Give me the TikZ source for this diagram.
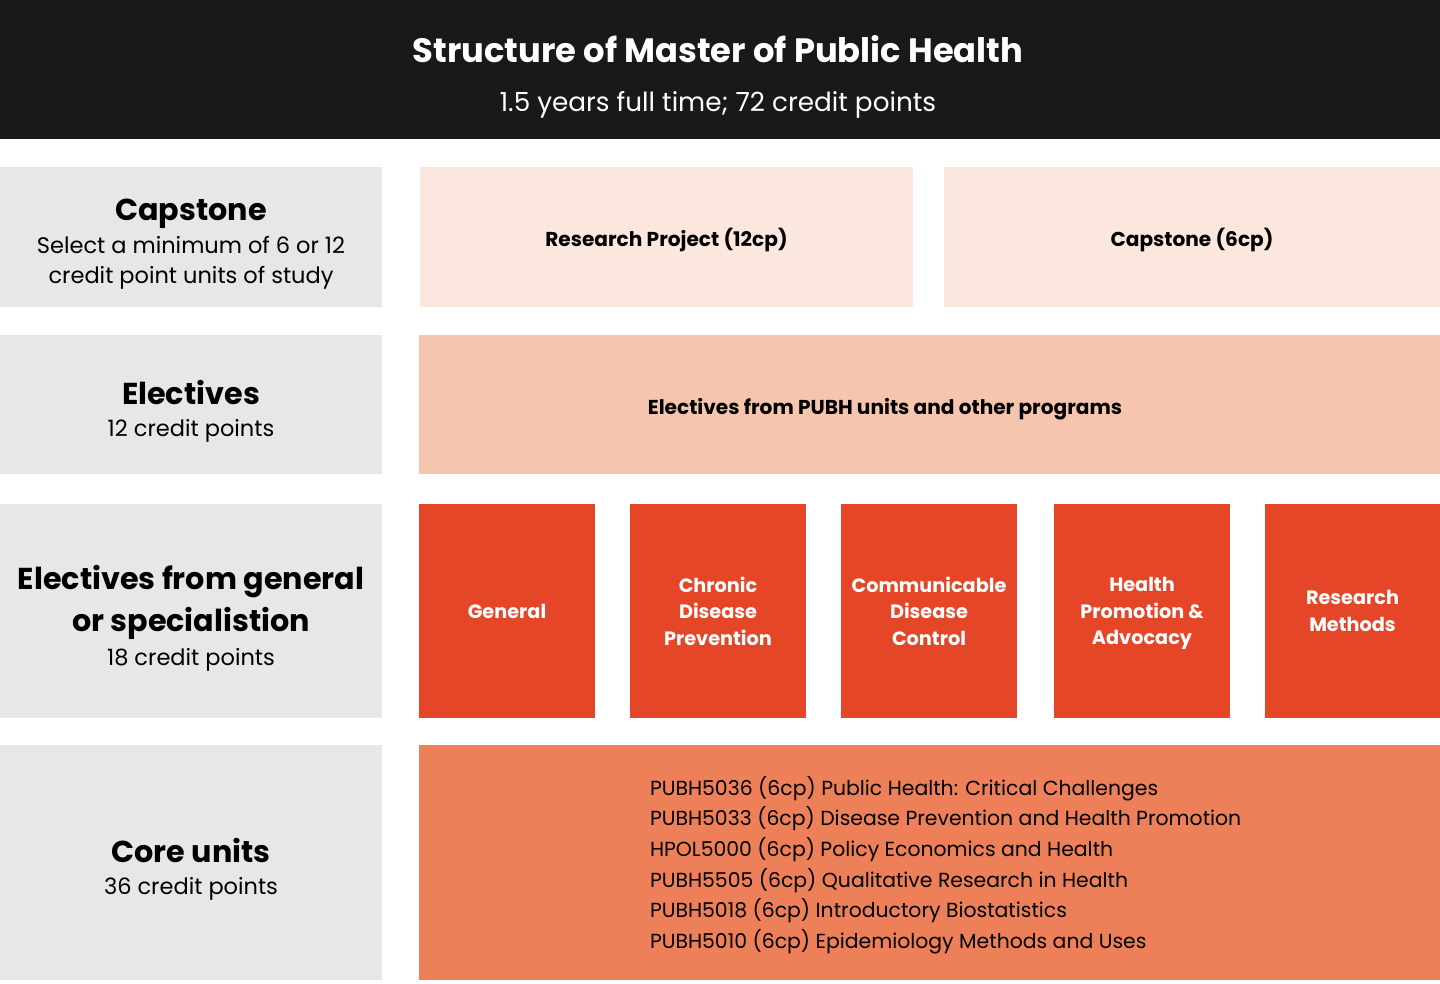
\documentclass[tikz,border=0pt]{standalone}
\usepackage{fontspec}
\setmainfont{Poppins}

\colorlet{headercolor}{black!90}
\definecolor{greycolor}{HTML}{E6E7E8}
\definecolor{capcolor}{HTML}{FBE7DD}
\definecolor{electcolor}{HTML}{F6C5AD}
\definecolor{speccolor}{HTML}{E54627}
\definecolor{corecolor}{HTML}{EE8059}

\newcommand{\rowheadfont}{\fontsize{21.5}{22}\selectfont\bfseries}
\newcommand{\rowsubfont}{\fontsize{16}{22}\selectfont\mdseries}

\begin{document}
\begin{tikzpicture}
  [x=0.025cm,y=-0.025cm,
   % Styles
   every node/.style={inner sep=0pt,outer sep=0pt},
   row label/.style={fill=greycolor,minimum width=382*0.025cm},
   row text/.style={align=center,text=black,font=\rowsubfont},
   unit box/.style={align=center,text depth=0pt,font=\fontsize{14.3}{18}\selectfont\bfseries},
   spec box/.style={unit box,fill=speccolor,text=white,minimum width=176*0.025cm,
     minimum height=214*0.025cm,font=\fontsize{13.7}{19}\selectfont\bfseries}]

  % The frame
  \useasboundingbox (0,0) rectangle (1440,984);
  \fill[white] (0,0) rectangle (1440,984);
  \fill[headercolor] (0,0) rectangle (1440,139);

  \node[text=white,font=\fontsize{24}{25}\selectfont\bfseries] (title) at (718,49)
    {Structure of Master of Public Health};
  \node[text=white,font=\fontsize{18.7}{20}\selectfont] (subtitle) at (718,105)
    {1.5 years full time; 72 credit points};

  % Row labels
  \node[row label,minimum height=140*0.025cm] (caplabel) at (191,237) {};
  \node[row text] (captext) at (caplabel.center) [yshift=-7.5*0.025cm]
    {{\rowheadfont Capstone}\\[1pt]
     Select a minimum of 6 or 12\\ credit point units of study};
  \node[row label,minimum height=139*0.025cm] (electlabel) at (191,404.5) {};
  \node[row text] (electtext) at (electlabel.center) [yshift=-6.5*0.025cm]
    {{\rowheadfont Electives}\\[1pt] 12 credit points};
  \node[row label,minimum height=214*0.025cm] (speclabel) at (191,611) {};
  \node[row text] (spectext) at (speclabel.center) [yshift=-7*0.025cm]
    {{\rowheadfont Electives from general}\\[6pt] {\rowheadfont or specialistion}\\[2pt]
     18 credit points};
  \node[row label,minimum height=235*0.025cm] (corelabel) at (191,862.5) {};
  \node[row text] (coretext) at (corelabel.center) [yshift=-6.5*0.025cm]
    {{\rowheadfont Core units}\\[1pt] 36 credit points};

  % Capstone
  \node[unit box,fill=capcolor,minimum width=493*0.025cm,minimum height=140*0.025cm]
    (project) at (666.5,237) {Research Project (12cp)};
  \node[unit box,fill=capcolor,minimum width=496*0.025cm,minimum height=140*0.025cm]
    (capstone) at (1192,237) {Capstone (6cp)};

  % Electives
  \node[fill=electcolor,minimum width=1021*0.025cm,minimum height=139*0.025cm]
    (electives) at (929.5,404.5) {};
  \node[unit box] (electivestext) at (885,406)
    {Electives from PUBH units and other programs};

  % Specialisations
  \node[spec box] (general) at (507,611) {General};
  \node[spec box] (chronic) at (718,611) {Chronic\\ Disease\\ Prevention};
  \node[spec box] (communicable) at (929,611) {Communicable\\ Disease\\ Control};
  \node[spec box] (promotion) at (1142,611) {Health\\ Promotion \&\\ Advocacy};
  \node[spec box] (methods) at (1352.5,611) {Research\\ Methods};

  % Core units
  \node[fill=corecolor,minimum width=1021*0.025cm,minimum height=235*0.025cm]
    (core) at (929.5,862.5) {};
  \node[anchor=west,align=left,font=\fontsize{14.5}{21.8}\selectfont] (corelist) at (650,865)
    {PUBH5036 (6cp) Public Health: Critical Challenges\\
     PUBH5033 (6cp) Disease Prevention and Health Promotion\\
     HPOL5000 (6cp) Policy Economics and Health\\
     PUBH5505 (6cp) Qualitative Research in Health\\
     PUBH5018 (6cp) Introductory Biostatistics\\
     PUBH5010 (6cp) Epidemiology Methods and Uses};
\end{tikzpicture}
\end{document}
